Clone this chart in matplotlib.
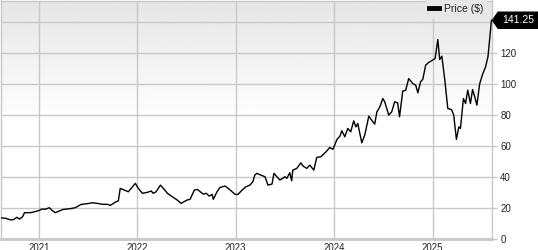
import numpy as np
import pandas as pd
import matplotlib
matplotlib.use("Agg")
import matplotlib.pyplot as plt
from matplotlib.patches import Polygon
from matplotlib.transforms import IdentityTransform

OUTPUT_PATH = "out.png"

GRID = "#c8c8c8"
TEXT = "#222222"

DATES = [
    "2020-08-12", "2020-09-01", "2020-09-19", "2020-09-30", "2020-10-11", "2020-10-22",
    "2020-11-02", "2020-11-09", "2020-12-01", "2020-12-12", "2020-12-31", "2021-01-14",
    "2021-01-25", "2021-02-09", "2021-02-20", "2021-03-03", "2021-03-14", "2021-04-01",
    "2021-04-28", "2021-05-16", "2021-06-08", "2021-06-30", "2021-07-18", "2021-08-06",
    "2021-08-25", "2021-09-12", "2021-09-23", "2021-10-11", "2021-10-23", "2021-10-30",
    "2021-11-14", "2021-11-29", "2021-12-25", "2022-01-05", "2022-01-20", "2022-02-07",
    "2022-02-22", "2022-03-01", "2022-03-12", "2022-03-28", "2022-04-08", "2022-04-23",
    "2022-05-11", "2022-05-29", "2022-06-13", "2022-06-24", "2022-07-05", "2022-07-16",
    "2022-08-01", "2022-08-12", "2022-08-23", "2022-09-03", "2022-09-14", "2022-09-25",
    "2022-10-06", "2022-10-10", "2022-10-24", "2022-11-04", "2022-11-23", "2022-12-12",
    "2022-12-30", "2023-01-10", "2023-01-25", "2023-02-08", "2023-02-23", "2023-03-06",
    "2023-03-13", "2023-03-21", "2023-04-04", "2023-04-20", "2023-05-01", "2023-05-16",
    "2023-05-23", "2023-06-03", "2023-06-14", "2023-06-25", "2023-07-03", "2023-07-10",
    "2023-07-21", "2023-07-28", "2023-08-01", "2023-08-16", "2023-08-31", "2023-09-08",
    "2023-09-22", "2023-10-03", "2023-10-18", "2023-10-29", "2023-11-13", "2023-11-20",
    "2023-12-05", "2023-12-16", "2023-12-28", "2024-01-12", "2024-01-23", "2024-01-30",
    "2024-02-10", "2024-02-21", "2024-03-03", "2024-03-14", "2024-03-22", "2024-03-29",
    "2024-04-13", "2024-04-24", "2024-05-09", "2024-05-24", "2024-05-31", "2024-06-08",
    "2024-06-19", "2024-06-30", "2024-07-07", "2024-07-22", "2024-08-02", "2024-08-13",
    "2024-08-24", "2024-08-31", "2024-09-12", "2024-09-23", "2024-10-04", "2024-10-19",
    "2024-10-30", "2024-11-07", "2024-11-17", "2024-11-25", "2024-12-06", "2024-12-17",
    "2025-01-01", "2025-01-10", "2025-01-20", "2025-01-27", "2025-02-04", "2025-02-15",
    "2025-02-26", "2025-03-12", "2025-03-20", "2025-03-30", "2025-04-08", "2025-04-14",
    "2025-04-25", "2025-05-03", "2025-05-11", "2025-05-21", "2025-05-29", "2025-06-06",
    "2025-06-14", "2025-06-24", "2025-07-04", "2025-07-16", "2025-07-25", "2025-08-07",
]

PRICES = [
    13.7, 13.3, 12.3, 12.6, 14.0, 12.9,
    14.4, 17.0, 17.0, 17.4, 18.3, 19.4,
    19.2, 20.2, 18.3, 17.0, 17.8, 19.1,
    19.6, 20.2, 22.4, 22.8, 23.4, 23.0,
    22.4, 22.4, 21.7, 23.7, 24.7, 32.7,
    31.6, 30.5, 35.9, 32.7, 29.5, 30.1,
    31.0, 29.5, 30.5, 34.8, 32.7, 29.5,
    27.3, 25.2, 23.0, 24.1, 25.2, 25.6,
    31.6, 32.0, 30.5, 29.0, 29.5, 27.7,
    28.8, 25.6, 30.5, 33.3, 34.2, 31.6,
    28.8, 28.8, 31.6, 33.7, 34.8, 37.0,
    41.3, 42.4, 41.3, 40.2, 34.8, 35.5,
    42.4, 40.2, 38.1, 39.2, 40.2, 39.2,
    42.8, 37.6, 44.5, 45.6, 49.2, 47.1,
    45.6, 47.7, 44.5, 52.7, 53.1, 54.2,
    56.8, 59.1, 57.9, 64.3, 66.4, 69.9,
    66.0, 71.4, 69.2, 76.3, 72.4, 74.6,
    62.1, 67.1, 79.3, 75.7, 74.2, 82.1,
    85.3, 90.7, 88.6, 80.0, 82.1, 88.6,
    87.9, 78.9, 95.5, 96.1, 103.6, 100.4,
    99.3, 94.4, 101.5, 103.0, 112.2, 114.0,
    115.5, 116.6, 128.8, 115.9, 118.0, 102.6,
    84.3, 83.5, 80.0, 64.3, 72.4, 71.4,
    90.7, 87.5, 96.1, 87.5, 96.5, 91.8,
    86.4, 100.0, 105.8, 111.1, 117.6, 141.25,
]

YEARS = [2021, 2022, 2023, 2024, 2025]
Y_TICKS = [0, 20, 40, 60, 80, 100, 120, 140]
# the 140 label sits behind the price tag, so it is left blank
Y_LABELS = ["0", "20", "40", "60", "80", "100", "120", ""]
X_START = "2020-08-12"
X_END = "2025-08-08"
Y_MAX = 154


def draw_background(ax):
    # light gray fading to white over the upper half
    grad = np.linspace(0.9, 1.0, 256).reshape(-1, 1)
    ax.imshow(grad, extent=[0, 1, 0.5, 1], transform=ax.transAxes,
              aspect="auto", cmap="gray", vmin=0, vmax=1, zorder=0,
              interpolation="bicubic")


def draw_price_tag(fig, ax, price):
    fig.canvas.draw()
    x0 = ax.transAxes.transform((1, 0))[0]
    y0 = ax.transData.transform((0, price))[1]
    h = 8.75
    pts = [(x0, y0), (x0 + 6, y0 + h), (x0 + 60, y0 + h),
           (x0 + 60, y0 - h), (x0 + 6, y0 - h)]
    tag = Polygon(pts, closed=True, facecolor="black", edgecolor="none",
                  transform=IdentityTransform(), clip_on=False)
    fig.add_artist(tag)
    fig.text(x0 + 26.5, y0, f"{price:.2f}", color="white", fontsize=7.5,
             ha="center", va="center", transform=IdentityTransform())


def generate_chart():
    plt.rcParams["font.family"] = ["Liberation Sans", "DejaVu Sans"]
    dates = pd.to_datetime(DATES)

    fig = plt.figure(figsize=(5.38, 2.5), dpi=100)
    ax = fig.add_axes([0.001, 0.044, 0.913, 0.954])

    draw_background(ax)
    ax.plot(dates, PRICES, color="black", linewidth=1.0, zorder=3, label="Price ($)")

    ax.set_xlim(pd.Timestamp(X_START), pd.Timestamp(X_END))
    ax.set_ylim(0, Y_MAX)
    ax.set_xticks([pd.Timestamp(f"{y}-01-01") for y in YEARS])
    ax.set_xticklabels([str(y) for y in YEARS])
    ax.set_yticks(Y_TICKS)
    ax.set_yticklabels(Y_LABELS)
    ax.yaxis.tick_right()
    ax.grid(True, color=GRID, linewidth=1.0, zorder=1)
    ax.set_axisbelow(True)

    ax.tick_params(axis="x", length=0, pad=3, labelsize=7, labelcolor=TEXT)
    ax.tick_params(axis="y", length=3.6, width=1.0, color=GRID, pad=2.5,
                   labelsize=7, labelcolor=TEXT)
    for side in ["left", "right", "top"]:
        ax.spines[side].set_color(GRID)
        ax.spines[side].set_linewidth(1.0)
    ax.spines["bottom"].set_color(GRID)
    ax.spines["bottom"].set_linewidth(2.0)

    leg = ax.legend(loc="upper right", bbox_to_anchor=(0.99, 1.0), fontsize=7.5,
                    frameon=True, fancybox=False, borderpad=0.35, borderaxespad=0,
                    handlelength=0.9, handletextpad=0.5)
    leg.get_frame().set_facecolor("#e7e7e7")
    leg.get_frame().set_edgecolor("none")
    leg.get_frame().set_alpha(1)
    for line in leg.get_lines():
        line.set_linewidth(3.5)
    for t in leg.get_texts():
        t.set_color(TEXT)

    draw_price_tag(fig, ax, PRICES[-1])

    fig.savefig(OUTPUT_PATH, dpi=100)


if __name__ == "__main__":
    generate_chart()
